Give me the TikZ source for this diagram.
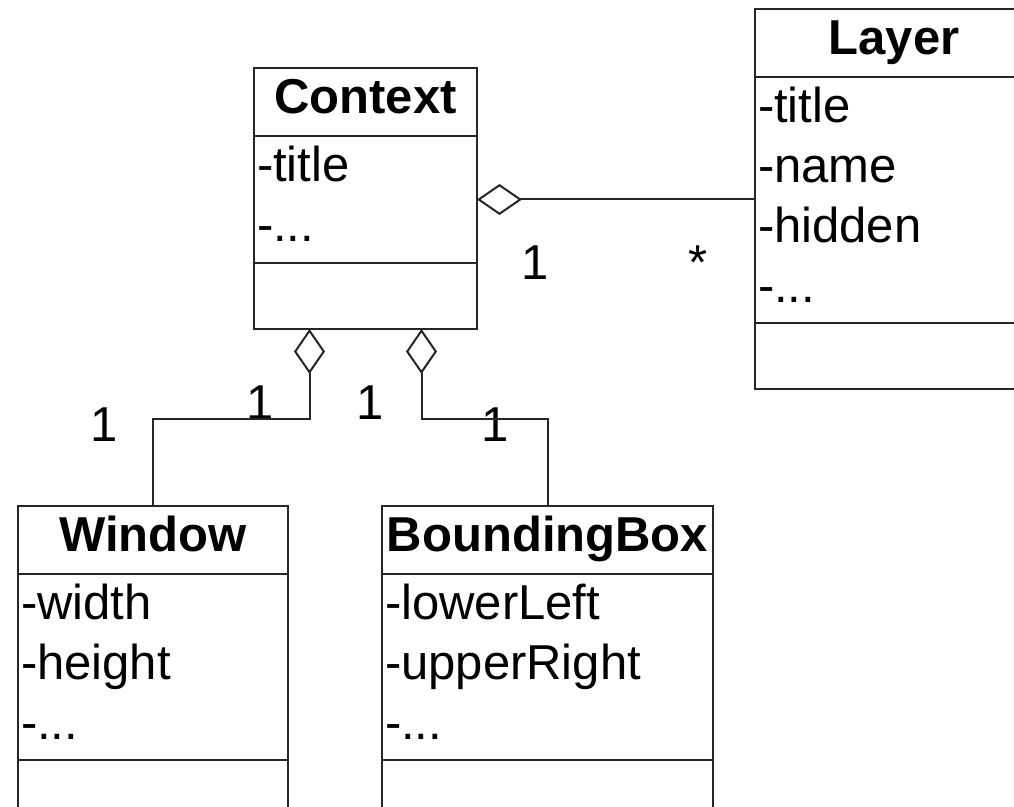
\documentclass[tikz,border=0pt]{standalone}
\usepackage{fontspec}
\setmainfont{Liberation Sans}
\usetikzlibrary{positioning,arrows.meta}

\tikzset{
  classtitle/.style={draw, inner sep=0pt, outer sep=0pt, text height=23pt, text depth=11pt,
    font=\fontsize{24.5pt}{30pt}\selectfont\bfseries},
  classattr/.style={draw, inner xsep=1.5pt, inner ysep=0pt, outer sep=0pt, align=left, text height=23pt},
  classops/.style={draw, inner sep=0pt, outer sep=0pt, minimum height=33pt},
  agg/.style={{Diamond[open,length=22.5pt,width=15.5pt]}-},
  mult/.style={anchor=base, inner sep=0pt},
}

\begin{document}
\begin{tikzpicture}[line width=1pt, draw=black!85,
  every node/.style={font=\fontsize{24.5pt}{30pt}\selectfont}]
\path[use as bounding box, fill=white] (0,0) rectangle (507pt,-403.5pt);
% nodes
 \node[classtitle, minimum width=111.5pt] (ctx) at (182.75pt,-51pt) {Context};
 \node[classattr, text width=108.5pt, text depth=40.5pt, below=0pt of ctx] (ctxattr) {-title\\-...};
 \node[classops, minimum width=111.5pt, below=0pt of ctxattr] (ctxops) {};

 \node[classtitle, minimum width=139pt] (layer) at (447pt,-21.5pt) {Layer};
 \node[classattr, text width=136pt, text depth=100pt, below=0pt of layer] (layerattr) {-title\\-name\\-hidden\\-...};
 \node[classops, minimum width=139pt, below=0pt of layerattr] (layerops) {};

 \node[classtitle, minimum width=135pt] (win) at (76.5pt,-270pt) {Window};
 \node[classattr, text width=132pt, text depth=70pt, below=0pt of win] (winattr) {-width\\-height\\-...};
 \node[classops, minimum width=135pt, below=0pt of winattr] (winops) {};

 \node[classtitle, minimum width=165.5pt] (bbox) at (273.75pt,-270pt) {BoundingBox};
 \node[classattr, text width=162.5pt, text depth=70pt, below=0pt of bbox] (bboxattr) {-lowerLeft\\-upperRight\\-...};
 \node[classops, minimum width=165.5pt, below=0pt of bboxattr] (bboxops) {};

% multiplicities
 \node[mult] (mctx) at (267.75pt,-140pt) {1};
 \node[mult] (mlayer) at (349pt,-140pt) {*};
 \node[mult] (mwin) at (52pt,-221pt) {1};
 \node[mult] (mctxw) at (130pt,-210pt) {1};
 \node[mult] (mctxb) at (185pt,-210pt) {1};
 \node[mult] (mbbox) at (247.5pt,-221pt) {1};

% edges
 \draw[agg] (ctxattr.east) -- (ctxattr.east -| layerattr.west);
 \draw[agg] ([xshift=-28pt]ctxops.south) |- ([yshift=43.5pt]win.north) -- (win.north);
 \draw[agg] ([xshift=28pt]ctxops.south) |- ([yshift=43.5pt]bbox.north) -- (bbox.north);
\end{tikzpicture}
\end{document}
